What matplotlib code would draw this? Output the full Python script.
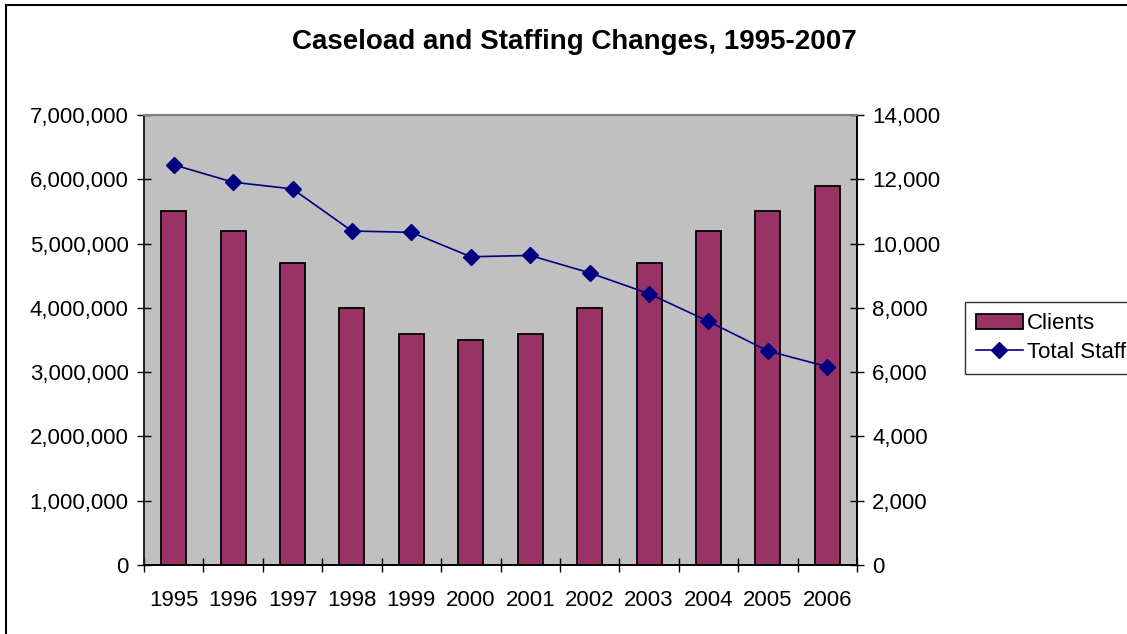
import numpy as np
import matplotlib.pyplot as plt
from matplotlib.patches import Rectangle
from matplotlib.ticker import FuncFormatter, FixedLocator

plt.rcParams['font.family'] = ['Liberation Sans', 'DejaVu Sans']

# data
years = ['1995', '1996', '1997', '1998', '1999', '2000',
         '2001', '2002', '2003', '2004', '2005', '2006']
clients = [5500000, 5200000, 4700000, 4000000, 3600000, 3500000,
           3600000, 4000000, 4700000, 5200000, 5500000, 5900000]
total_staff = [12450, 11910, 11700, 10390, 10350, 9590,
               9630, 9090, 8440, 7580, 6660, 6170]

W, H = 1127, 634
fig = plt.figure(figsize=(W / 100, H / 100), dpi=100)

# outer chart border (cut off at right / bottom like the original)
fig.patches.append(Rectangle((6 / W, -0.2), 2, 1 - 4.5 / H + 0.2,
                             transform=fig.transFigure, fill=False,
                             edgecolor='black', linewidth=1.5, zorder=0))

left, right, top, bottom = 144, 857, 115, 565
ax = fig.add_axes([left / W, 1 - bottom / H, (right - left) / W, (bottom - top) / H])
ax.set_facecolor('#c0c0c0')

x = np.arange(len(years))
bars = ax.bar(x, clients, width=0.42, color='#993366', edgecolor='black',
              linewidth=1.3, label='Clients', zorder=2)
ax.set_xlim(-0.5, len(years) - 0.5)
ax.set_ylim(0, 7000000)
ax.set_yticks(np.arange(0, 7000001, 1000000))
ax.yaxis.set_major_formatter(FuncFormatter(lambda v, p: f'{v:,.0f}'))

ax.set_xticks(x)
ax.set_xticklabels(years)
ax.xaxis.set_minor_locator(FixedLocator(np.arange(-0.5, len(years), 1.0)))
ax.tick_params(axis='x', which='major', length=0, labelsize=16, pad=18)
ax.tick_params(axis='x', which='minor', direction='inout', length=10, width=1)
ax.tick_params(axis='y', direction='inout', length=10, width=1, labelsize=16, pad=6)

ax2 = ax.twinx()
line, = ax2.plot(x, total_staff, color='#000080', linewidth=1.2, marker='D',
                 markersize=8, label='Total Staff', zorder=3)
ax2.set_ylim(0, 14000)
ax2.set_yticks(np.arange(0, 14001, 2000))
ax2.yaxis.set_major_formatter(FuncFormatter(lambda v, p: f'{v:,.0f}'))
ax2.tick_params(axis='y', direction='inout', length=10, width=1, labelsize=16, pad=6)

for a in (ax, ax2):
    a.spines['top'].set_color('#808080')
    a.spines['left'].set_color('#202020')
    a.spines['bottom'].set_color('black')
    a.spines['right'].set_color('black')
    for s in a.spines.values():
        s.set_linewidth(1.2)
    a.spines['top'].set_linewidth(1.5)

fig.text(574 / W, 1 - 42 / H, 'Caseload and Staffing Changes, 1995-2007',
         ha='center', va='center', fontsize=20, fontweight='bold')

leg = fig.legend([bars, line], ['Clients', 'Total Staff'],
                 loc='upper left', bbox_to_anchor=(965 / W, 1 - 302 / H),
                 fontsize=16, frameon=True, fancybox=False, shadow=False,
                 handlelength=2.1, handletextpad=0.2, borderpad=0.5,
                 labelspacing=0.35, borderaxespad=0)
leg.get_frame().set_edgecolor('black')
leg.get_frame().set_linewidth(1.0)

fig.savefig('out.png', dpi=100)
